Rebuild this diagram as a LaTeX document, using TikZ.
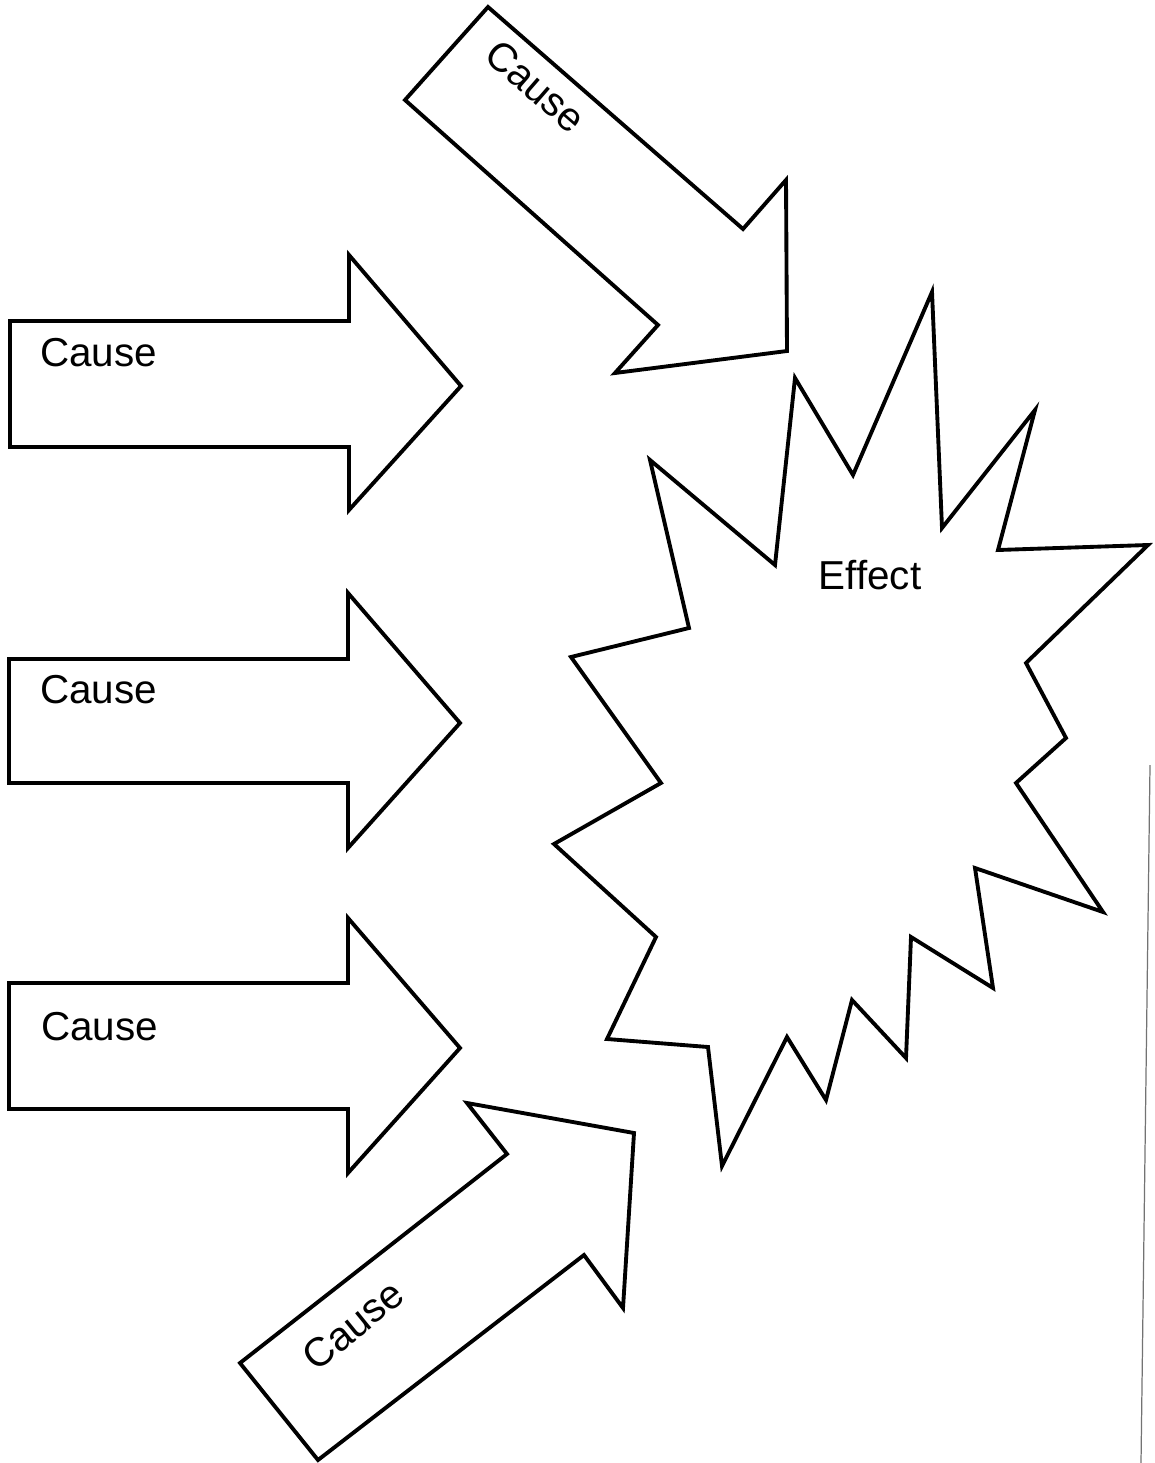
\documentclass[tikz,border=0pt]{standalone}
\usepackage{fontspec}
\setmainfont{Liberation Sans}
\usetikzlibrary{positioning}

\begin{document}
\begin{tikzpicture}
		[x=0.02cm,y=-0.02cm,
		outline/.style={draw=black,line width=2.2pt,line join=miter,miter limit=20},
		word/.style={font=\fontsize{23}{27}\selectfont,inner sep=0pt},
		edge line/.style={draw=black!55,line width=0.7pt}]

			\useasboundingbox (0,0) rectangle (1155,1463);

			% left arrows
			\draw[outline] (10,321) -- (349,321) -- (349,255) -- (461,386) -- (349,510) -- (349,447) -- (10,447) -- cycle;
			\draw[outline] (9,659) -- (348,659) -- (348,593) -- (460,723) -- (348,848) -- (348,783) -- (9,783) -- cycle;
			\draw[outline] (9,983) -- (348,983) -- (348,918) -- (460,1048) -- (348,1173) -- (348,1109) -- (9,1109) -- cycle;

			% slanted arrows
			\draw[outline] (405,100) -- (488,7) -- (743,229) -- (786,180) -- (787,351) -- (615,373) -- (658,325) -- cycle;
			\draw[outline] (240,1363) -- (507,1154) -- (467,1103) -- (634,1133) -- (623,1308) -- (584,1255) -- (318,1460) -- cycle;

			% burst
			\draw[outline] (571,657) -- (689,628) -- (650,460) -- (775,565) -- (795,378) -- (853,475)
				-- (932,292) -- (942,528) -- (1035,410) -- (998,550) -- (1148,545) -- (1026,663)
				-- (1066,738) -- (1016,783) -- (1103,912) -- (975,868) -- (993,988) -- (911,937)
				-- (906,1058) -- (852,1000) -- (826,1100) -- (787,1037) -- (722,1166) -- (708,1047)
				-- (607,1039) -- (656,937) -- (554,844) -- (661,783) -- cycle;

			\node[word, anchor=west](c1) at (40,353) {Cause};
			\node[word, anchor=west](c2) at (40,690) {Cause};
			\node[word, anchor=west](c3) at (41,1027) {Cause};
			\node[word, rotate=-41](ctop) at (536,86) {Cause};
			\node[word, rotate=39](cbot) at (353,1325) {Cause};
			\node[word](effect) at (870,575) {Effect};

			\coordinate (rimtop) at (1150,765);
			\coordinate (rimbot) at (1141,1463);
			\path[edge line] (rimtop) -- (rimbot);

	\end{tikzpicture}
\end{document}
